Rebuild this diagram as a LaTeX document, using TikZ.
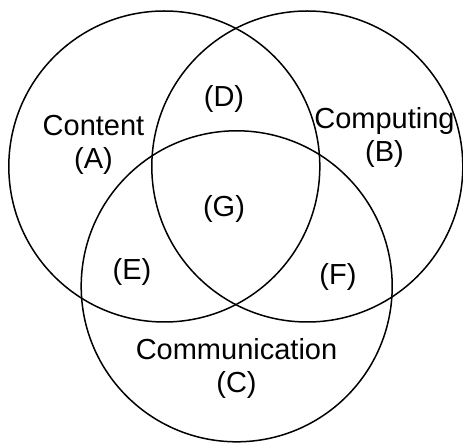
\documentclass[tikz,border=0pt]{standalone}
\usepackage{fontspec}
\setmainfont{Liberation Sans}
\usepackage{tikz}

\tikzset{
  set/.style={draw, circle, line width=1.5pt, minimum size=311pt, inner sep=0pt},
  lbl/.style={align=center, inner sep=0pt, font=\fontsize{29}{33}\selectfont}
}

\begin{document}
\begin{tikzpicture}[x=1pt,y=-1pt]
        \useasboundingbox (0,0) rectangle (463,443);

        \node[set] (setA) at (164.3,166.5) {};
        \node[set] (setB) at (307.3,166.5) {};
        \node[set] (setC) at (236.7,286.3) {};

        \node[lbl] (A) at (93.5,145) {Content\\(A)};
        \node[lbl] (B) at (384.5,137) {Computing\\(B)};
        \node[lbl] (C) at (236.5,368) {Communication\\(C)};

        \node[lbl] (D) at (224,98.5) {(D)};
        \node[lbl] (G) at (224,208.5) {(G)};
        \node[lbl] (E) at (132,271.7) {(E)};
        \node[lbl] (F) at (338,276.7) {(F)};
    \end{tikzpicture}
\end{document}
